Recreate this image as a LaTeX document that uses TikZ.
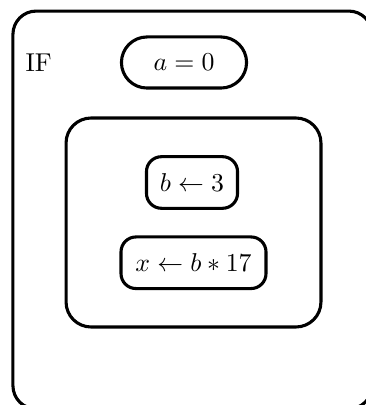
\documentclass[tikz,border=0pt]{standalone}
\usepackage{amsmath,amssymb}
\usepackage{tikz}
\usetikzlibrary{shapes.misc}

\begin{document}
\begin{tikzpicture}[x=0.3876pt,y=-0.3876pt,
 frame/.style={draw,line width=1.2pt,rounded corners=#1,inner sep=0pt},
 cond/.style={draw,line width=1.2pt,rounded rectangle,inner sep=0pt,
 minimum width=48.5pt,minimum height=19.8pt},
 stmt/.style={frame=5.8pt,minimum height=20pt}]
 \useasboundingbox (0,0) rectangle (365,405);
 \node[frame=9pt,minimum width=139.2pt,minimum height=154.2pt] (ifbox) at (192.5,210) {};
 \node[anchor=base west,inner sep=0pt] (iflabel) at (25,72) {IF};
 \node[cond] (test) at (184,62.5) {$a=0$};
 \node[frame=9.7pt,minimum width=98.8pt,minimum height=81pt] (body) at (193.5,222.5) {};
 \node[stmt,minimum width=35.3pt] (assignb) at (192,182.5) {$b\leftarrow 3$};
 \node[stmt,minimum width=56.2pt] (assignx) at (193.5,262.75) {$x\leftarrow b*17$};
\end{tikzpicture}
\end{document}
